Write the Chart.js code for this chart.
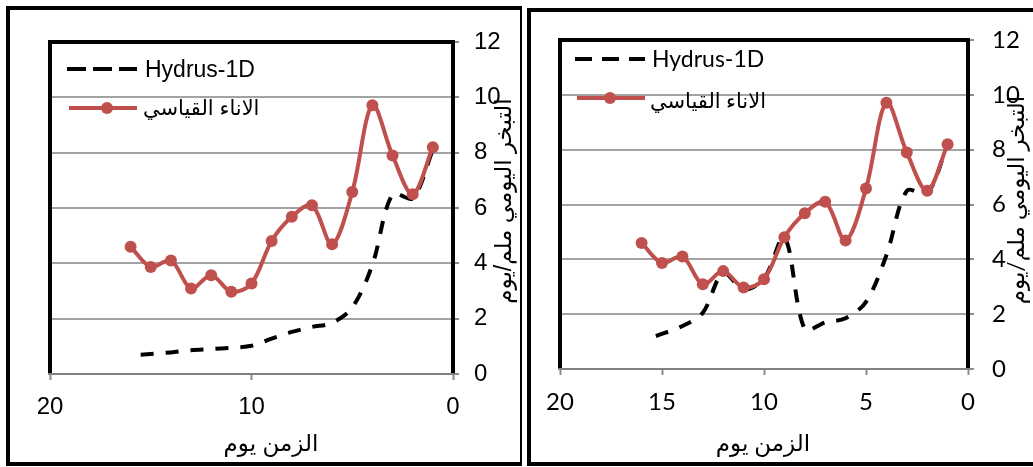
<!DOCTYPE html>
<html>
<head>
<meta charset="utf-8">
<script src="https://cdn.jsdelivr.net/npm/chart.js@4.4.1/dist/chart.umd.min.js"></script>
<style>
  html, body { margin: 0; padding: 0; background: #fff; }
  body { width: 1033px; height: 467px; position: relative; overflow: hidden; }
  .frame { position: absolute; border: 4px solid #000; box-sizing: border-box; }
  canvas { position: absolute; top: 0; }
</style>
</head>
<body>
<div class="frame" style="left:6px; top:6px; width:516px; height:460px; border-right-width:2px;"></div>
<div class="frame" style="left:527px; top:8px; width:520px; height:458px; border-right:none;"></div>
<canvas id="panelA" width="520" height="467" style="left:0;"></canvas>
<canvas id="panelB" width="513" height="467" style="left:520px;"></canvas>
<script>
// Days counted back from the end of the record (axis runs 20 -> 0)
const days = [16, 15, 14, 13, 12, 11, 10, 9, 8, 7, 6, 5, 4, 3, 2, 1];
// Daily evaporation measured with the standard pan (mm/day)
const measuredPan = [4.6, 3.87, 4.1, 3.09, 3.57, 2.97, 3.27, 4.81, 5.68, 6.1, 4.69, 6.58, 9.71, 7.9, 6.5, 8.2];

// Hydrus-1D simulation, first run
const hydrusDaysA = [15.5, 14, 13, 12, 11, 10, 9, 8, 7, 6, 5, 4, 3, 2, 1];
const hydrusA = [0.7, 0.78, 0.86, 0.9, 0.95, 1.02, 1.28, 1.52, 1.7, 1.85, 2.4, 3.95, 6.5, 6.35, 8.1];

// Hydrus-1D simulation, second run
const hydrusDaysB = [15.3, 14, 13, 12, 11, 10, 9, 8, 7, 6, 5, 4, 3, 2, 1];
const hydrusB = [1.2, 1.57, 2.05, 3.5, 2.9, 3.3, 4.8, 1.45, 1.7, 1.85, 2.45, 4.15, 6.5, 6.4, 8.2];

// Axis ticks
const xTicksA = [20, 10, 0];
const xTicksB = [20, 15, 10, 5, 0];
const yTicks = [0, 2, 4, 6, 8, 10, 12];

// Text
const seriesNames = ['Hydrus-1D', 'الاناء القياسي'];
const xTitle = 'الزمن يوم';
const yTitle = 'التبخر اليومي ملم/يوم';

const panelDecor = {
  id: 'panelDecor',
  beforeDatasetsDraw(chart, args, o) {
    const { ctx, chartArea: a } = chart;
    ctx.save();
    ctx.strokeStyle = '#000';
    ctx.lineWidth = 4;
    ctx.beginPath();
    ctx.moveTo(a.left, a.bottom);
    ctx.lineTo(a.left, a.top);
    ctx.lineTo(a.right, a.top);
    ctx.lineTo(a.right, a.bottom);
    ctx.stroke();
    ctx.strokeStyle = '#808080';
    ctx.lineWidth = 2;
    ctx.beginPath();
    ctx.moveTo(a.left - 2, a.bottom);
    ctx.lineTo(a.right + 2, a.bottom);
    ctx.stroke();
    ctx.restore();
  },
  afterDraw(chart, args, o) {
    const { ctx, chartArea: a } = chart;
    const ds = chart.data.datasets;
    const L = o.legend;
    ctx.save();
    // legend entry: simulated series
    ctx.strokeStyle = ds[0].borderColor;
    ctx.lineWidth = ds[0].borderWidth;
    ctx.setLineDash(L.dash);
    ctx.beginPath();
    ctx.moveTo(a.left + L.x0, a.top + L.y0);
    ctx.lineTo(a.left + L.x1, a.top + L.y0);
    ctx.stroke();
    ctx.setLineDash([]);
    ctx.fillStyle = '#000';
    ctx.textAlign = 'left';
    ctx.textBaseline = 'alphabetic';
    ctx.font = L.font0;
    ctx.fillText(ds[0].label, a.left + L.tx0, a.top + L.ty0);
    // legend entry: measured series
    ctx.strokeStyle = ds[1].borderColor;
    ctx.lineWidth = ds[1].borderWidth;
    ctx.beginPath();
    ctx.moveTo(a.left + L.x0 + 2, a.top + L.y1);
    ctx.lineTo(a.left + L.x1, a.top + L.y1);
    ctx.stroke();
    ctx.fillStyle = ds[1].pointBackgroundColor;
    ctx.beginPath();
    ctx.arc(a.left + L.mx, a.top + L.y1, ds[1].pointRadius, 0, Math.PI * 2);
    ctx.fill();
    ctx.fillStyle = '#000';
    ctx.font = L.font1;
    ctx.fillText(ds[1].label, a.left + L.tx1, a.top + L.ty1);
    // axis titles
    ctx.font = o.titleFont;
    ctx.textAlign = 'center';
    ctx.textBaseline = 'alphabetic';
    ctx.fillText(xTitle, o.xTitleX, o.xTitleY);
    ctx.translate(o.yTitleX, o.yTitleY);
    ctx.rotate(-Math.PI / 2);
    ctx.textBaseline = 'middle';
    ctx.fillText(yTitle, 0, 0);
    ctx.restore();
  }
};

function buildPanel(id, cfg) {
  const tickFont = { family: cfg.family, size: cfg.tickSize };
  return new Chart(document.getElementById(id), {
    type: 'line',
    data: {
      datasets: [
        {
          label: seriesNames[0],
          data: cfg.hx.map((x, i) => ({ x, y: cfg.hy[i] })),
          borderColor: '#000',
          borderWidth: 4,
          borderDash: [13, 12],
          pointRadius: 0,
          tension: 0.33,
          fill: false,
          order: 1
        },
        {
          label: seriesNames[1],
          data: days.map((x, i) => ({ x, y: measuredPan[i] })),
          borderColor: '#C0504D',
          backgroundColor: '#C0504D',
          pointBackgroundColor: '#C0504D',
          pointBorderColor: '#C0504D',
          borderWidth: 4,
          pointRadius: 6,
          pointBorderWidth: 0,
          tension: 0.33,
          fill: false,
          order: 0
        }
      ]
    },
    options: {
      responsive: false,
      animation: false,
      events: [],
      layout: { padding: { left: cfg.left, top: cfg.top, right: 0, bottom: 0 } },
      plugins: {
        legend: { display: false },
        tooltip: { enabled: false },
        panelDecor: cfg.decor
      },
      scales: {
        x: {
          type: 'linear',
          reverse: true,
          min: 0,
          max: 20,
          afterBuildTicks: s => { s.ticks = cfg.xt.map(v => ({ value: v })); },
          afterFit: s => { s.height = cfg.xAxisH; },
          grid: { drawOnChartArea: false, drawTicks: true, tickLength: 6, tickColor: '#8c8c8c', tickWidth: 2 },
          border: { display: false },
          ticks: { padding: 13, color: '#000', font: tickFont, maxRotation: 0, autoSkip: false }
        },
        y: {
          position: 'right',
          min: 0,
          max: 12,
          afterBuildTicks: s => { s.ticks = yTicks.map(v => ({ value: v })); },
          afterFit: s => { s.width = cfg.yAxisW; },
          grid: {
            color: c => (c.tick && (c.tick.value === 0 || c.tick.value === 12)) ? 'rgba(0,0,0,0)' : '#a3a3a3',
            lineWidth: 2,
            tickLength: 6,
            tickColor: '#8c8c8c',
            tickWidth: 2
          },
          border: { display: false },
          ticks: { padding: cfg.yPad, color: '#000', font: tickFont, autoSkip: false }
        }
      }
    },
    plugins: [panelDecor]
  });
}

const famA = "'Liberation Sans', 'DejaVu Sans', sans-serif";
const famB = "Lato, 'DejaVu Sans', sans-serif";

buildPanel('panelA', {
  hx: hydrusDaysA, hy: hydrusA, xt: xTicksA,
  left: 50, top: 42, xAxisH: 93, yAxisW: 67, yPad: 15,
  family: famA, tickSize: 24,
  decor: {
    legend: {
      dash: [19, 7], x0: 17, x1: 87, y0: 27, y1: 66, mx: 57,
      tx0: 95, ty0: 35, tx1: 93, ty1: 73,
      font0: "23px " + famA, font1: "21px " + famA
    },
    titleFont: "23px " + famA,
    xTitleX: 271, xTitleY: 451,
    yTitleX: 505, yTitleY: 201
  }
});

buildPanel('panelB', {
  hx: hydrusDaysB, hy: hydrusB, xt: xTicksB,
  left: 40, top: 40, xAxisH: 98, yAxisW: 65, yPad: 18,
  family: famB, tickSize: 24,
  decor: {
    legend: {
      dash: [17, 10], x0: 15, x1: 85, y0: 19, y1: 58, mx: 50,
      tx0: 92, ty0: 27, tx1: 90, ty1: 68,
      font0: "23px " + famB, font1: "21px " + famB
    },
    titleFont: "23px " + famB,
    xTitleX: 243, xTitleY: 451,
    yTitleX: 497, yTitleY: 200
  }
});
</script>
</body>
</html>
